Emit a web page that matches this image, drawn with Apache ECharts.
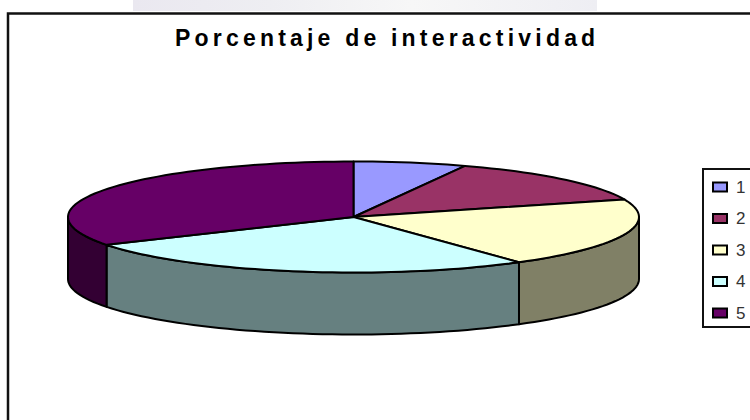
<!DOCTYPE html>
<html>
<head>
<meta charset="utf-8" />
<title>Porcentaje de interactividad</title>
<script src="https://cdn.jsdelivr.net/npm/echarts@6/dist/echarts.min.js"></script>
<style>
	html, body { margin: 0; padding: 0; background: #fff; }
	#main { width: 750px; height: 420px; }
	#main svg text { letter-spacing: 4.2px; }
</style>
</head>
<body>
<div id="main"></div>
<script>
	var categories = ['1', '2', '3', '4', '5'];
	var values = [6.4, 13.5, 20.3, 26.5, 33.4];
	var topColors = ['#9999ff', '#993366', '#ffffcc', '#ccffff', '#660066'];
	var sideColors = ['#4c4c80', '#4c1933', '#808066', '#668080', '#330033'];

	// pie geometry, it is a flat ellipse with a wall below
	var cx = 353.5, cy = 217, rx = 285.5, ry = 55.5, depth = 62;
	var total = values.reduce(function (a, b) { return a + b; }, 0);

	function rim(deg) {
		var t = deg * Math.PI / 180;
		return [cx + rx * Math.sin(t), cy - ry * Math.cos(t)];
	}

	function arc(from, to) {
		var pts = [];
		var n = Math.max(2, Math.ceil(Math.abs(to - from) / 2));
		for (var i = 0; i <= n; i++) {
			pts.push(rim(from + (to - from) * i / n));
		}
		return pts;
	}

	function renderSlice(params, api) {
		var index = params.seriesIndex;
		var before = 0;
		for (var i = 0; i < index; i++) before += values[i];
		var start = before / total * 360;
		var end = (before + api.value(0)) / total * 360;
		var line = { stroke: '#000', lineWidth: 2, lineJoin: 'round' };
		var children = [];

		// wall only shows on the front half
		var a = Math.max(start, 90), b = Math.min(end, 270);
		if (b > a) {
			var upper = arc(a, b);
			var lower = upper.map(function (p) { return [p[0], p[1] + depth]; }).reverse();
			children.push({
				type: 'polygon',
				shape: { points: upper.concat(lower) },
				style: Object.assign({ fill: sideColors[index] }, line)
			});
		}
		children.push({
			type: 'polygon',
			shape: { points: [[cx, cy]].concat(arc(start, end)) },
			style: Object.assign({ fill: topColors[index] }, line)
		});
		return { type: 'group', children: children };
	}

	var series = categories.map(function (name, i) {
		return {
			name: name,
			type: 'custom',
			coordinateSystem: 'none',
			renderItem: renderSlice,
			itemStyle: { color: topColors[i] },
			silent: true,
			data: [[values[i]]]
		};
	});

	var myChart = echarts.init(document.getElementById('main'), null, { renderer: 'svg' });
	myChart.setOption({
		animation: false,
		backgroundColor: '#fff',
		title: {
			text: 'Porcentaje de interactividad',
			left: 175,
			top: 26,
			padding: 0,
			textStyle: {
				fontFamily: 'Liberation Sans',
				fontWeight: 'bold',
				fontSize: 23,
				color: '#000'
			}
		},
		legend: {
			left: 712,
			top: 176,
			orient: 'vertical',
			itemWidth: 14,
			itemHeight: 9,
			itemGap: 9.5,
			icon: 'rect',
			selectedMode: false,
			data: categories,
			padding: 0,
			itemStyle: { borderColor: '#000', borderWidth: 2 },
			textStyle: {
				fontFamily: 'Liberation Sans',
				fontSize: 17,
				lineHeight: 16,
				color: '#333',
				padding: [0, 0, 6, 4]
			}
		},
		graphic: [
			// faded bit of the page behind the chart, above the frame
			{
				type: 'rect',
				z: -11,
				shape: { x: 133, y: 0, width: 464, height: 11 },
				style: {
					fill: {
						type: 'linear', x: 0, y: 0, x2: 1, y2: 0,
						colorStops: [
							{ offset: 0, color: '#eae8f0' },
							{ offset: 0.3, color: '#eeeef2' },
							{ offset: 0.6, color: '#f7f7f7' },
							{ offset: 1, color: '#eeeef3' }
						]
					}
				}
			},
			// outer frame, it runs off the right and bottom of the picture
			{
				type: 'rect',
				z: -10,
				shape: { x: 8, y: 13.5, width: 760, height: 430 },
				style: { fill: '#fff', stroke: '#111', lineWidth: 2.5 }
			},
			// legend box
			{
				type: 'rect',
				z: -9,
				shape: { x: 703, y: 169, width: 70, height: 158 },
				style: { fill: '#fff', stroke: '#111', lineWidth: 2 }
			}
		],
		series: series
	});
</script>
</body>
</html>
